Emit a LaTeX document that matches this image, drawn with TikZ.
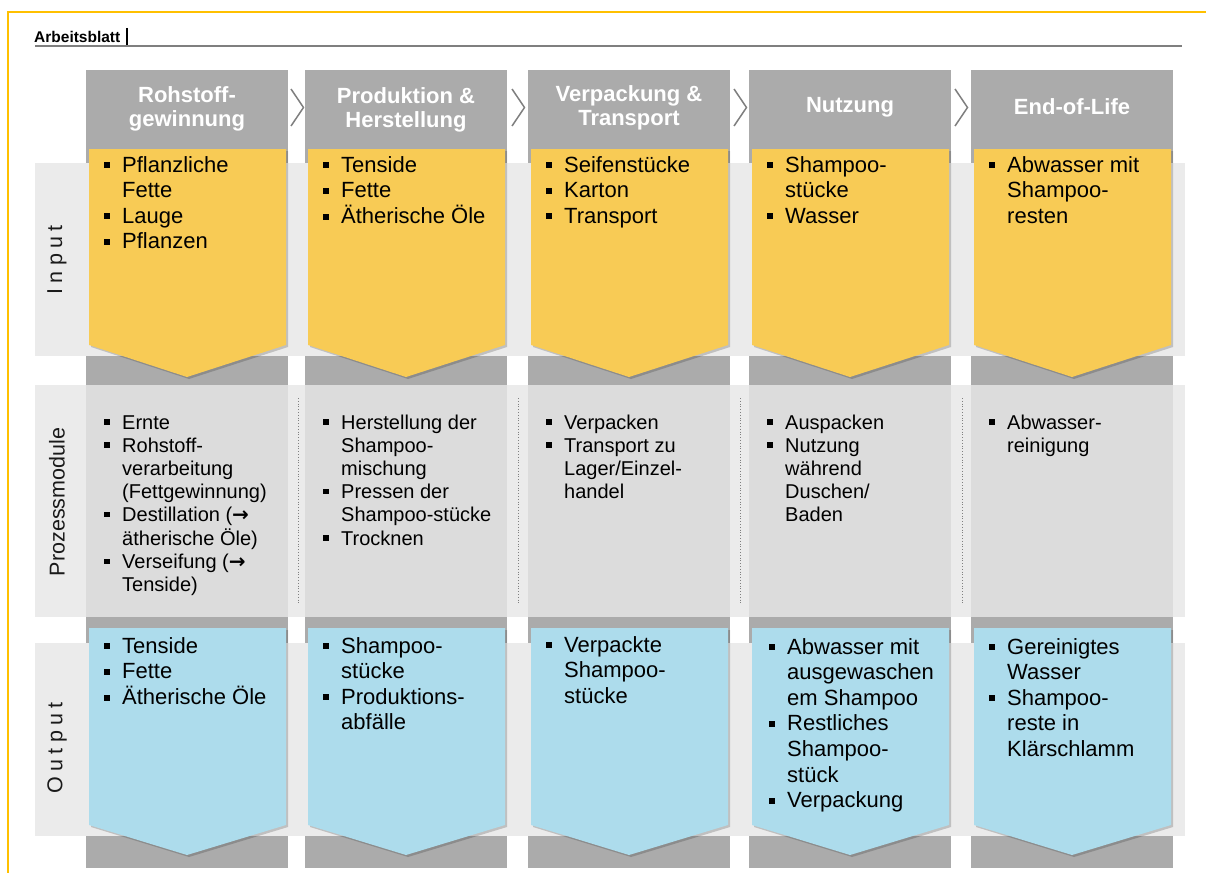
\documentclass[tikz,border=0pt]{standalone}
\usepackage{fontspec}
\setmainfont{Liberation Sans}
\newfontfamily\symfont{DejaVu Sans}
\definecolor{bordergold}{HTML}{FFC000}
\definecolor{hdrgray}{HTML}{ABABAB}
\definecolor{rowgray}{HTML}{EBEBEB}
\definecolor{procgray}{HTML}{DCDCDC}
\definecolor{chevyellow}{HTML}{F8CB55}
\definecolor{chevblue}{HTML}{ADDCEC}
\definecolor{sepgray}{HTML}{7F7F7F}
\definecolor{labelgray}{HTML}{1A1A1A}
\newcommand{\bi}{\makebox[18pt][l]{\rule[4pt]{6pt}{6pt}}}
\newcommand{\bp}{\makebox[18pt][l]{\rule[4.5pt]{5.5pt}{5.5pt}}}
\newcommand{\ci}{\hspace*{18pt}}
\newcommand{\rarr}{{\symfont\bfseries →}}
\tikzset{
  colbg/.style={fill=hdrgray},
  rowbg/.style={fill=rowgray},
  procbg/.style={fill=procgray},
  chevin/.style={fill=chevyellow},
  chevout/.style={fill=chevblue},
  shadowp/.style={fill=black, opacity=0.18},
  hdrtext/.style={text=white, font=\bfseries\fontsize{22}{24.5}\selectfont, align=center, inner sep=0},
  itemtext/.style={font=\fontsize{22}{25.6}\selectfont, inner sep=0, anchor=base west},
  proctext/.style={font=\fontsize{20}{23.2}\selectfont, inner sep=0, anchor=base west},
  rowlabel/.style={rotate=90, font=\fontsize{21.5}{24}\selectfont, text=labelgray, inner sep=0},
  sepline/.style={draw=sepgray, line width=1.5pt},
  dotsep/.style={draw=gray, dotted, line width=0.8pt},
  frameline/.style={draw=bordergold, line width=2pt}
}
\begin{document}
\begin{tikzpicture}[x=1pt,y=-1pt]
\useasboundingbox (0,0) rectangle (1206,872);
% frame
\draw[frameline] (8,874) -- (8,12) -- (1208,12);
% title
\node[font=\bfseries\fontsize{15.5}{18}\selectfont, anchor=base west, inner sep=0] (title) at (34,43) {Arbeitsblatt};
\draw[line width=1.3pt] (127,28) -- (127,46);
\draw[draw=sepgray, line width=1.2pt] (35,46) -- (1182,46);
% columns
\foreach \x in {86,305,528,749,971}{
  \fill[colbg] (\x,70) rectangle ++(202,798);
}
% row backgrounds
\fill[rowbg] (35,163) rectangle (1185,356);
\fill[rowbg] (35,385) rectangle (1185,617);
\fill[rowbg] (35,643) rectangle (1185,836);
\foreach \x in {86,305,528,749,971}{
  \fill[procbg] (\x,385) rectangle ++(202,232);
  \fill[colbg] (\x,617) rectangle ++(202,26);
}
% dotted separators in process row
\foreach \m in {298,518,740,962}{
  \draw[dotsep] (\m,398) -- (\m,605);
}
% chevrons
\foreach \x in {86,305,528,749,971}{
  \fill[shadowp] (\x+5,151) -- (\x+202,151) -- (\x+202,347) -- (\x+103,379) -- (\x+5,347) -- cycle;
  \fill[chevin] (\x+3,149) -- (\x+200,149) -- (\x+200,345) -- (\x+101,377) -- (\x+3,345) -- cycle;
  \fill[shadowp] (\x+5,630) -- (\x+202,630) -- (\x+202,827) -- (\x+103,857) -- (\x+5,827) -- cycle;
  \fill[chevout] (\x+3,628) -- (\x+200,628) -- (\x+200,825) -- (\x+101,855) -- (\x+3,825) -- cycle;
}
% header texts
\node[hdrtext] (hd1) at (187,109) {Rohstoff-\\gewinnung};
\node[hdrtext] (hd2) at (406,110) {Produktion \&\\Herstellung};
\node[hdrtext] (hd3) at (629,108) {Verpackung \&\\Transport};
\node[hdrtext] (hd4) at (850,107) {Nutzung};
\node[hdrtext] (hd5) at (1072,107) {End-of-Life};
% header separators
\foreach \m in {297,518,740,961}{
  \draw[sepline] (\m-6,89) -- (\m+6.5,107.5) -- (\m-6,126);
}
% input texts
\node[itemtext] (in1) at (104,172) {\begin{tabular}[t]{@{}l@{}}\bi Pflanzliche\\ \ci Fette\\ \bi Lauge\\ \bi Pflanzen\end{tabular}};
\node[itemtext] (in2) at (323,172) {\begin{tabular}[t]{@{}l@{}}\bi Tenside\\ \bi Fette\\ \bi Ätherische Öle\end{tabular}};
\node[itemtext] (in3) at (546,172) {\begin{tabular}[t]{@{}l@{}}\bi Seifenstücke\\ \bi Karton\\ \bi Transport\end{tabular}};
\node[itemtext] (in4) at (767,172) {\begin{tabular}[t]{@{}l@{}}\bi Shampoo-\\ \ci stücke\\ \bi Wasser\end{tabular}};
\node[itemtext] (in5) at (989,172) {\begin{tabular}[t]{@{}l@{}}\bi Abwasser mit\\ \ci Shampoo-\\ \ci resten\end{tabular}};
% process texts
\node[proctext] (pr1) at (104,429) {\begin{tabular}[t]{@{}l@{}}\bp Ernte\\ \bp Rohstoff-\\ \ci verarbeitung\\ \ci (Fettgewinnung)\\ \bp Destillation (\rarr\\ \ci ätherische Öle)\\ \bp Verseifung (\rarr\\ \ci Tenside)\end{tabular}};
\node[proctext] (pr2) at (323,429) {\begin{tabular}[t]{@{}l@{}}\bp Herstellung der\\ \ci Shampoo-\\ \ci mischung\\ \bp Pressen der\\ \ci Shampoo-stücke\\ \bp Trocknen\end{tabular}};
\node[proctext] (pr3) at (546,429) {\begin{tabular}[t]{@{}l@{}}\bp Verpacken\\ \bp Transport zu\\ \ci Lager/Einzel-\\ \ci handel\end{tabular}};
\node[proctext] (pr4) at (767,429) {\begin{tabular}[t]{@{}l@{}}\bp Auspacken\\ \bp Nutzung\\ \ci während\\ \ci Duschen/\\ \ci Baden\end{tabular}};
\node[proctext] (pr5) at (989,429) {\begin{tabular}[t]{@{}l@{}}\bp Abwasser-\\ \ci reinigung\end{tabular}};
% output texts
\node[itemtext] (out1) at (104,653) {\begin{tabular}[t]{@{}l@{}}\bi Tenside\\ \bi Fette\\ \bi Ätherische Öle\end{tabular}};
\node[itemtext] (out2) at (323,653) {\begin{tabular}[t]{@{}l@{}}\bi Shampoo-\\ \ci stücke\\ \bi Produktions-\\ \ci abfälle\end{tabular}};
\node[itemtext] (out3) at (546,652) {\begin{tabular}[t]{@{}l@{}}\bi Verpackte\\ \ci Shampoo-\\ \ci stücke\end{tabular}};
\node[itemtext] (out4) at (769,654) {\begin{tabular}[t]{@{}l@{}}\bi Abwasser mit\\ \ci ausgewaschen\\ \ci em Shampoo\\ \bi Restliches\\ \ci Shampoo-\\ \ci stück\\ \bi Verpackung\end{tabular}};
\node[itemtext] (out5) at (989,654) {\begin{tabular}[t]{@{}l@{}}\bi Gereinigtes\\ \ci Wasser\\ \bi Shampoo-\\ \ci reste in\\ \ci Klärschlamm\end{tabular}};
% row labels
\node[rowlabel] (lin) at (57,260) {\addfontfeature{LetterSpace=25}Input};
\node[rowlabel] (lpr) at (57,502) {Prozessmodule};
\node[rowlabel] (lout) at (57,748) {\addfontfeature{LetterSpace=25}Output};
\end{tikzpicture}
\end{document}
